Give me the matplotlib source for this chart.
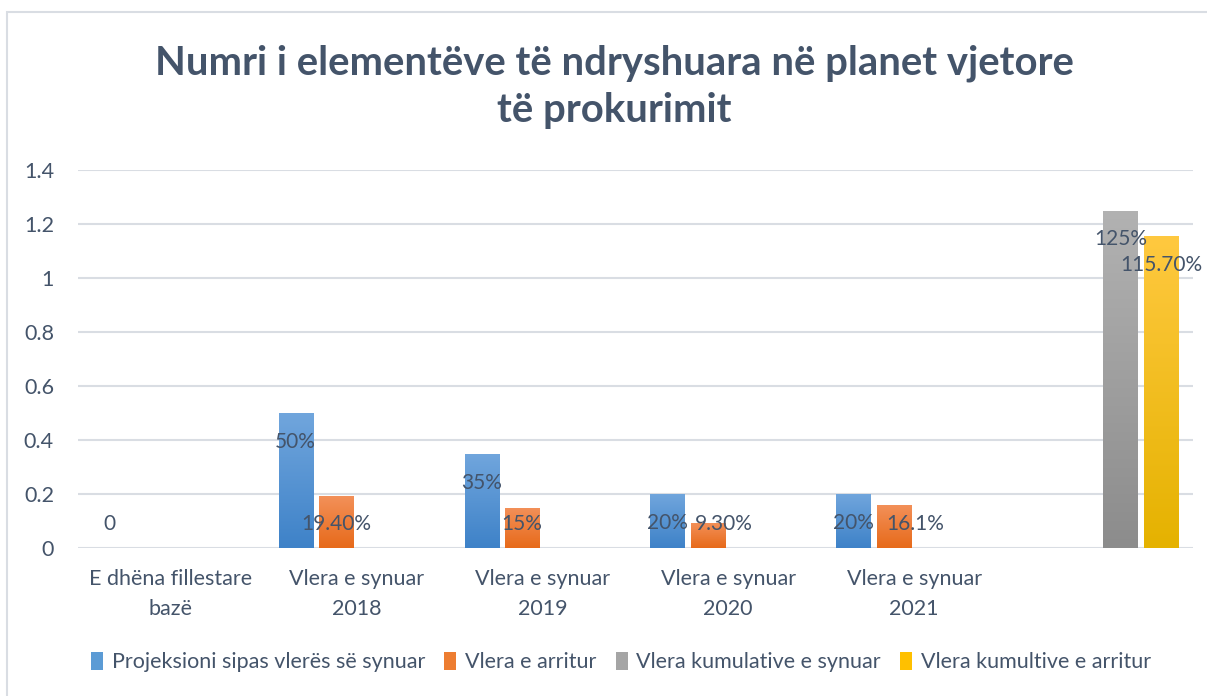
import numpy as np
import matplotlib
matplotlib.use("Agg")
import matplotlib.pyplot as plt
from matplotlib.patches import Rectangle
from matplotlib.colors import LinearSegmentedColormap

# ---- data ----
categories = ["E dhëna fillestare\nbazë", "Vlera e synuar\n2018", "Vlera e synuar\n2019",
              "Vlera e synuar\n2020", "Vlera e synuar\n2021", ""]
series_names = ["Projeksioni sipas vlerës së synuar", "Vlera e arritur",
                "Vlera kumulative e synuar", "Vlera kumultive e arritur"]
projeksioni = [0, 0.50, 0.35, 0.20, 0.20, None]
arritur = [None, 0.194, 0.15, 0.093, 0.161, None]
kumulative_synuar = [None, None, None, None, None, 1.25]
kumulative_arritur = [None, None, None, None, None, 1.157]
labels_proj = ["0", "50%", "35%", "20%", "20%", None]
labels_arr = [None, "19.40%", "15%", "9.30%", "16.1%", None]
labels_ks = [None, None, None, None, None, "125%"]
labels_ka = [None, None, None, None, None, "115.70%"]
yticks = [0, 0.2, 0.4, 0.6, 0.8, 1, 1.2, 1.4]
ytick_labels = ["0", "0.2", "0.4", "0.6", "0.8", "1", "1.2", "1.4"]
title = "Numri i elementëve të ndryshuara në planet vjetore\ntë prokurimit"

series = [projeksioni, arritur, kumulative_synuar, kumulative_arritur]
series_labels = [labels_proj, labels_arr, labels_ks, labels_ka]
gradients = [("#71A6DD", "#3E82C8"), ("#F3915A", "#E76A1A"),
             ("#B2B2B2", "#8C8C8C"), ("#FFC940", "#E5B200")]
base_colors = ["#5B9BD5", "#ED7D31", "#A5A5A5", "#FFC000"]
# horizontal nudges of some data labels (style, in category units)
label_nudge = {(1, 3): 0.086, (1, 4): 0.113}

TXT = "#44546A"
FONT = "Lato"

W, H = 1207, 696
fig = plt.figure(figsize=(W / 100, H / 100), dpi=100)
fig.patch.set_facecolor("white")

# chart border
fig.patches.append(Rectangle((7 / W, -0.2), 1.2, 1.2 - 12 / H, transform=fig.transFigure,
                             fill=False, edgecolor="#D9DDE3", linewidth=1.5))

x0, x1 = 77.6, 1193
yb, yt = 548.3, 170
ax = fig.add_axes([x0 / W, 1 - yb / H, (x1 - x0) / W, (yb - yt) / H])

for s in ax.spines.values():
    s.set_visible(False)
ax.set_yticks(yticks)
ax.set_yticklabels(ytick_labels, fontsize=15.5, color=TXT, family=FONT)
ax.tick_params(axis="y", length=0, pad=17)
ax.set_xticks(range(len(categories)))
ax.set_xticklabels(categories, fontsize=15.5, color=TXT, family=FONT, linespacing=1.6)
ax.tick_params(axis="x", length=0, pad=15)
ax.yaxis.grid(True, color="#D9DDE3", linewidth=1.5)
ax.set_axisbelow(True)

bw = 0.183
step = 0.218
offsets = [-1.5 * step, -0.5 * step, 0.5 * step, 1.5 * step]
grad = np.linspace(0, 1, 256).reshape(-1, 1)
lab_drop = 0.107   # inside-end label distance below bar top
lab_min = 0.09     # lowest label centre

for si, vals in enumerate(series):
    cmap = LinearSegmentedColormap.from_list("g%d" % si, [gradients[si][1], gradients[si][0]])
    for ci, v in enumerate(vals):
        if v is None:
            continue
        xc = ci + offsets[si]
        if v > 0:
            bars = ax.bar(xc, v, width=bw, color=base_colors[si], linewidth=0, zorder=2)
            p = bars[0]
            im = ax.imshow(grad, cmap=cmap, aspect="auto", origin="lower",
                           extent=[xc - bw / 2, xc + bw / 2, 0, v], zorder=3)
            im.set_clip_path(p)
        lab = series_labels[si][ci]
        if lab:
            ax.text(xc + label_nudge.get((si, ci), 0), max(v - lab_drop, lab_min), lab,
                    ha="center", va="center", fontsize=15, color=TXT, family=FONT, zorder=5)

ax.set_xlim(-0.5, len(categories) - 0.5)
ax.set_ylim(0, 1.4)

fig.text(614 / W, 1 - 87 / H, title, ha="center", va="center", fontsize=28.8,
         fontweight="bold", color=TXT, family=FONT, linespacing=1.32)

handles = [Rectangle((0, 0), 1, 1, facecolor=c, edgecolor="none") for c in base_colors]
leg = fig.legend(handles, series_names, loc="center", bbox_to_anchor=(621 / W, 1 - 662 / H),
                 ncol=4, frameon=False, handlelength=0.55, handleheight=0.9, handletextpad=0.4,
                 columnspacing=0.9, prop={"family": FONT, "size": 15.5})
for t in leg.get_texts():
    t.set_color(TXT)

fig.savefig("out.png", dpi=100, facecolor="white")
